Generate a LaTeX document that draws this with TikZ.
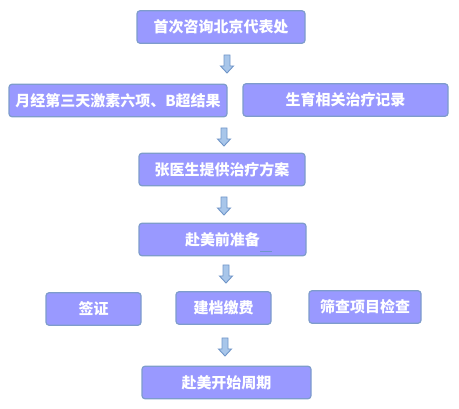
\documentclass[tikz,border=0pt]{standalone}
\usepackage{fontspec}
\newfontfamily\cjk{Noto Sans CJK SC}
\definecolor{boxfill}{HTML}{9999FF}
\definecolor{boxline}{HTML}{7E9CCC}
\definecolor{arrfill}{HTML}{A8C6EA}
\definecolor{arrline}{HTML}{7196C8}
\begin{document}
\begin{tikzpicture}[x=1pt,y=-1pt,
    stepbox/.style={draw=boxline, line width=1.2pt, fill=boxfill, rounded corners=3pt, inner sep=0pt, minimum height=32.5pt, text=white, font=\cjk\bfseries\fontsize{15}{15}\selectfont},
    downarr/.pic={\draw[draw=arrline, line width=0.9pt, fill=arrfill, line join=miter] (-3,0) -- (3,0) -- (3,11) -- (6.5,11) -- (0,18) -- (-6.5,11) -- (-3,11) -- cycle;}]

    \useasboundingbox (0,0) rectangle (459,409);

    \node[stepbox, minimum width=168pt] (consult) at (221,27) {首次咨询北京代表处};
    \node[stepbox, minimum width=218pt] (tests) at (118,100.5) {月经第三天激素六项、B超结果};
    \node[stepbox, minimum width=205pt] (records) at (345.5,100) {生育相关治疗记录};
    \node[stepbox, minimum width=166pt] (plan) at (222,169.5) {张医生提供治疗方案};
    \node[stepbox, minimum width=167pt] (prep) at (222.5,239.5) {赴美前准备};
    \node[stepbox, minimum width=95pt] (visa) at (93.5,309) {签证};
    \node[stepbox, minimum width=95pt] (filing) at (223.5,308) {建档缴费};
    \node[stepbox, minimum width=112pt] (screen) at (365,307) {筛查项目检查};
    \node[stepbox, minimum width=169pt] (start) at (226.5,382.5) {赴美开始周期};

    % small mark after the text
    \draw[arrline, line width=0.6pt] (260,251) -- (272,251);

    \pic (a1) at (227,55) {downarr};
    \pic (a2) at (224,128) {downarr};
    \pic (a3) at (224,197) {downarr};
    \pic (a4) at (226,265) {downarr};
    \pic (a5) at (225,338) {downarr};

\end{tikzpicture}
\end{document}
